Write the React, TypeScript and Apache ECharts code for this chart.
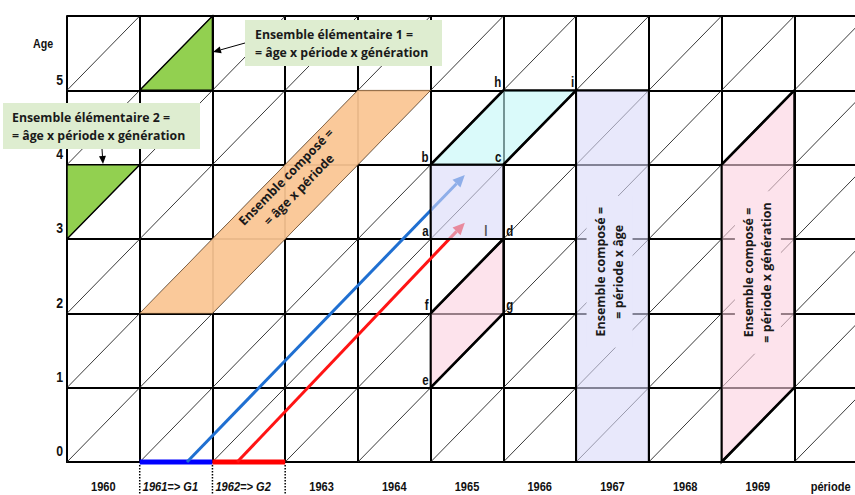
import React, { useEffect, useRef } from 'react';
import * as echarts from 'echarts';

// ---------- data ----------
const periodLabels = ['1960', '1961=> G1', '1962=> G2', '1963', '1964', '1965', '1966', '1967', '1968', '1969', 'période'];
const periodStart = 1960;
const periodEnd = 1971;
const ageTicks = [0, 1, 2, 3, 4, 5];
const ageMax = 6;

// sets, as vertices [period, age]
const elemSet1 = [[1961, 5], [1962, 6], [1962, 5]];
const elemSet2 = [[1960, 4], [1961, 4], [1960, 3]];
const agePeriodBand = [[1961, 2], [1962, 2], [1965, 5], [1964, 5]];
const cyanSet = [[1965, 4], [1966, 4], [1967, 5], [1966, 5]];
const squareSet = [[1965, 3], [1966, 3], [1966, 4], [1965, 4]];
const pinkSet = [[1965, 1], [1966, 2], [1966, 3], [1965, 2]];
const periodAgeSet = [[1967, 0], [1968, 0], [1968, 5], [1967, 5]];
const periodGenSet = [[1969, 0], [1970, 1], [1970, 5], [1969, 4]];

const thickEdges = [
  [[1965, 4], [1966, 5]],
  [[1966, 4], [1967, 5]],
  [[1965, 1], [1966, 2]],
  [[1965, 2], [1966, 3]],
  [[1969, 0], [1970, 1]],
  [[1969, 4], [1970, 5]],
];

const blueArrow = [[1961.65, 0], [1965.47, 3.86]];
const redArrow = [[1962.34, 0], [1965.47, 3.22]];
const cohortG1 = [[1961, 0], [1962, 0]];
const cohortG2 = [[1962, 0], [1963, 0]];
const dottedMarks = [1961, 1962, 1963];

const pointNames = ['a', 'b', 'c', 'd', 'e', 'f', 'g', 'h', 'i', 'l'];
const pointCoords = [[1965, 3], [1965, 4], [1966, 4], [1966, 3], [1965, 1], [1965, 2], [1966, 2], [1966, 5], [1967, 5], [1965.76, 3]];
const pointSides = ['left', 'left', 'left', 'right', 'left', 'left', 'right', 'left', 'left', 'center'];

const setTitles = ['Ensemble composé =\n= âge x période', 'Ensemble composé =\n= période x âge', 'Ensemble composé =\n= période x génération'];
const setTitleAnchors = [[1963.1, 3.75], [1967.46, 2.56], [1969.5, 2.55]];

const calloutTexts = ['Ensemble élémentaire 1 =\n= âge x période x génération', 'Ensemble élémentaire 2 =\n= âge x période x génération'];

// ---------- styles ----------
const ARIAL = "'Liberation Sans',Arial,sans-serif";
const NARROW_SCALE = 0.82;
const CAL = "'Open Sans','Noto Sans',sans-serif";

const polySets = [elemSet1, elemSet2, agePeriodBand, cyanSet, squareSet, pinkSet, periodAgeSet, periodGenSet];
const polyStyles = [
  { fill: '#92d050', stroke: '#000', lw: 1.5 },
  { fill: '#92d050', stroke: '#000', lw: 1.5 },
  { fill: 'rgba(250,198,148,0.94)', stroke: 'rgba(110,70,30,0.55)', lw: 0.8 },
  { fill: 'rgba(193,247,247,0.6)', stroke: '#000', lw: 2 },
  { fill: 'rgba(217,217,248,0.6)', stroke: '#000', lw: 2 },
  { fill: 'rgba(252,208,223,0.6)', stroke: '#000', lw: 2 },
  { fill: 'rgba(217,217,248,0.6)', stroke: '#000', lw: 2 },
  { fill: 'rgba(252,208,223,0.6)', stroke: '#000', lw: 2 },
];
const arrowSets = [blueArrow, redArrow];
const arrowColors = ['#1f6fd1', '#ff1414'];
const cohortSets = [cohortG1, cohortG2];
const cohortColors = ['#0000ff', '#ff0000'];
const titleBg = [null, '#e8e8fb', '#fde3ec'];

const cells: number[][] = [];
for (let p = periodStart; p < periodEnd; p++) {
  for (let a = 0; a < ageMax; a++) cells.push([p, a]);
}

function headPoints(x0: number, y0: number, x1: number, y1: number, L: number, W: number) {
  const ang = Math.atan2(y1 - y0, x1 - x0);
  const bx = x1 - L * Math.cos(ang);
  const by = y1 - L * Math.sin(ang);
  return {
    base: [bx, by],
    tri: [[x1, y1], [bx + W * Math.sin(ang), by - W * Math.cos(ang)], [bx - W * Math.sin(ang), by + W * Math.cos(ang)]],
  };
}

function calloutArrow(x0: number, y0: number, x1: number, y1: number) {
  const h = headPoints(x0, y0, x1, y1, 8, 3.5);
  return [
    { type: 'line', z: 101, shape: { x1: x0, y1: y0, x2: h.base[0], y2: h.base[1] }, style: { stroke: '#000', lineWidth: 1 } },
    { type: 'polygon', z: 101, shape: { points: h.tri }, style: { fill: '#000' } },
  ];
}

function narrowText(text: string, x: number, y: number, size: number, align: string, vAlign: string, extra: any = {}) {
  return {
    type: 'text', x, y, scaleX: NARROW_SCALE, scaleY: 1,
    style: { text, fill: '#111', fontFamily: ARIAL, fontWeight: 'bold', fontSize: size, align, verticalAlign: vAlign, ...extra },
  };
}

function buildOption() {
  return {
    animation: false,
    grid: { left: 67, top: 16, width: 800, height: 446, containLabel: false },
    xAxis: {
      type: 'value', min: periodStart, max: periodEnd, interval: 1,
      axisLine: { show: true, onZero: false, lineStyle: { color: '#000', width: 2 } },
      axisTick: { show: false }, axisLabel: { show: false },
      splitLine: { show: true, lineStyle: { color: '#000', width: 2 } },
    },
    yAxis: {
      type: 'value', min: 0, max: ageMax, interval: 1,
      axisLine: { show: true, lineStyle: { color: '#000', width: 2 } },
      axisTick: { show: false }, axisLabel: { show: false },
      splitLine: { show: true, lineStyle: { color: '#000', width: 2 } },
    },
    series: [
      {
        type: 'custom', name: 'generations', z: 2, data: cells,
        renderItem: (params: any, api: any) => {
          const p = api.value(0), a = api.value(1);
          const s = api.coord([p, a]);
          const e = api.coord([p + 1, a + 1]);
          return { type: 'line', shape: { x1: s[0], y1: s[1], x2: e[0], y2: e[1] }, style: { stroke: '#222', lineWidth: 0.9 } };
        },
      },
      {
        type: 'custom', name: 'cohorts', z: 3, data: cohortSets.map((_, i) => [i]),
        renderItem: (params: any, api: any) => {
          const seg = cohortSets[params.dataIndex];
          const s = api.coord(seg[0]);
          const e = api.coord(seg[1]);
          return { type: 'line', shape: { x1: s[0], y1: s[1], x2: e[0], y2: e[1] }, style: { stroke: cohortColors[params.dataIndex], lineWidth: 5 } };
        },
      },
      {
        type: 'custom', name: 'dotted', z: 3, data: dottedMarks.map((x) => [x, 0]),
        renderItem: (params: any, api: any) => {
          const s = api.coord([api.value(0), 0]);
          return { type: 'line', shape: { x1: s[0], y1: s[1] + 3, x2: s[0], y2: s[1] + 40 }, style: { stroke: '#000', lineWidth: 1.5, lineDash: [1.5, 1.5] } };
        },
      },
      {
        type: 'custom', name: 'arrows', z: 3, data: arrowSets.map((_, i) => [i]),
        renderItem: (params: any, api: any) => {
          const seg = arrowSets[params.dataIndex];
          const col = arrowColors[params.dataIndex];
          const s = api.coord(seg[0]);
          const e = api.coord(seg[1]);
          const h = headPoints(s[0], s[1], e[0], e[1], 12, 5.5);
          return {
            type: 'group',
            children: [
              { type: 'line', shape: { x1: s[0], y1: s[1], x2: h.base[0], y2: h.base[1] }, style: { stroke: col, lineWidth: 3 } },
              { type: 'polygon', shape: { points: h.tri }, style: { fill: col } },
            ],
          };
        },
      },
      {
        type: 'custom', name: 'sets', z: 4, data: polySets.map((_, i) => [i]),
        renderItem: (params: any, api: any) => {
          const st = polyStyles[params.dataIndex];
          const pts = polySets[params.dataIndex].map((p) => api.coord(p));
          return { type: 'polygon', shape: { points: pts }, style: { fill: st.fill, stroke: st.stroke, lineWidth: st.lw } };
        },
      },
      {
        type: 'custom', name: 'edges', z: 5, data: thickEdges.map((_, i) => [i]),
        renderItem: (params: any, api: any) => {
          const seg = thickEdges[params.dataIndex];
          const s = api.coord(seg[0]);
          const e = api.coord(seg[1]);
          return { type: 'line', shape: { x1: s[0], y1: s[1], x2: e[0], y2: e[1] }, style: { stroke: '#000', lineWidth: 2.6 } };
        },
      },
      {
        type: 'custom', name: 'titles', z: 6, data: setTitles.map((_, i) => [i]),
        renderItem: (params: any, api: any) => {
          const i = params.dataIndex;
          const c = api.coord(setTitleAnchors[i]);
          let rot = Math.PI / 2;
          if (i === 0) {
            const a = api.coord(agePeriodBand[0]);
            const b = api.coord(agePeriodBand[3]);
            rot = Math.atan2(a[1] - b[1], b[0] - a[0]);
          }
          const bg = titleBg[i];
          return {
            type: 'text', x: c[0], y: c[1], rotation: rot,
            style: {
              text: setTitles[i], fill: '#1a1a1a', fontFamily: CAL, fontWeight: 'bold', fontSize: 12.5,
              lineHeight: 18, align: 'center', verticalAlign: 'middle',
              backgroundColor: bg || 'transparent', padding: bg ? [5, 11] : 0,
            },
          };
        },
      },
      {
        type: 'custom', name: 'points', z: 6, data: pointCoords,
        renderItem: (params: any, api: any) => {
          const i = params.dataIndex;
          const c = api.coord([api.value(0), api.value(1)]);
          const side = pointSides[i];
          const x = side === 'left' ? c[0] - 2 : side === 'right' ? c[0] + 3 : c[0];
          const align = side === 'left' ? 'right' : side === 'right' ? 'left' : 'center';
          return narrowText(pointNames[i], x, c[1] - 1, 14, align, 'bottom', side === 'center' ? { fill: '#555' } : {});
        },
      },
      {
        type: 'custom', name: 'periodLabels', z: 6, data: periodLabels.map((_, i) => [periodStart + i, 0]),
        renderItem: (params: any, api: any) => {
          const i = params.dataIndex;
          const p = api.value(0);
          const italic = i === 1 || i === 2;
          if (italic) {
            const l = api.coord([p, 0]);
            return narrowText(periodLabels[i], l[0] + 3, l[1] + 25, 13.5, 'left', 'middle', { fontStyle: 'italic' });
          }
          const c = api.coord([p + 0.5, 0]);
          return narrowText(periodLabels[i], c[0], c[1] + 25, 13.5, 'center', 'middle');
        },
      },
      {
        type: 'custom', name: 'ageLabels', z: 6, data: ageTicks.map((a) => [periodStart, a]),
        renderItem: (params: any, api: any) => {
          const c = api.coord([api.value(0), api.value(1)]);
          return narrowText(String(ageTicks[params.dataIndex]), c[0] - 4, c[1] - 3, 15, 'right', 'bottom');
        },
      },
    ],
    graphic: [
      { ...narrowText('Age', 43, 44, 13, 'center', 'middle'), z: 100 },
      { type: 'rect', z: 100, shape: { x: 245, y: 20, width: 197, height: 46 }, style: { fill: '#deedd0' } },
      { type: 'text', z: 101, x: 255, y: 43, style: { text: calloutTexts[0], fill: '#1a1a1a', fontFamily: CAL, fontWeight: 'bold', fontSize: 12.3, lineHeight: 18, align: 'left', verticalAlign: 'middle' } },
      ...calloutArrow(245, 43, 213, 52),
      { type: 'rect', z: 100, shape: { x: 3, y: 103, width: 197, height: 46 }, style: { fill: '#deedd0' } },
      { type: 'text', z: 101, x: 12, y: 126, style: { text: calloutTexts[1], fill: '#1a1a1a', fontFamily: CAL, fontWeight: 'bold', fontSize: 12.3, lineHeight: 18, align: 'left', verticalAlign: 'middle' } },
      ...calloutArrow(102, 149, 103, 164),
    ],
  };
}

export default function App() {
  const ref = useRef<HTMLDivElement>(null);
  useEffect(() => {
    const chart = echarts.init(ref.current as HTMLDivElement, null, { renderer: 'svg' });
    chart.setOption(buildOption() as any);
    return () => chart.dispose();
  }, []);
  return (
    <div style={{ position: 'fixed', left: 0, top: 0, width: 855, height: 495, overflow: 'hidden', background: '#fff' }}>
      <div ref={ref} style={{ width: 870, height: 495 }} />
    </div>
  );
}
